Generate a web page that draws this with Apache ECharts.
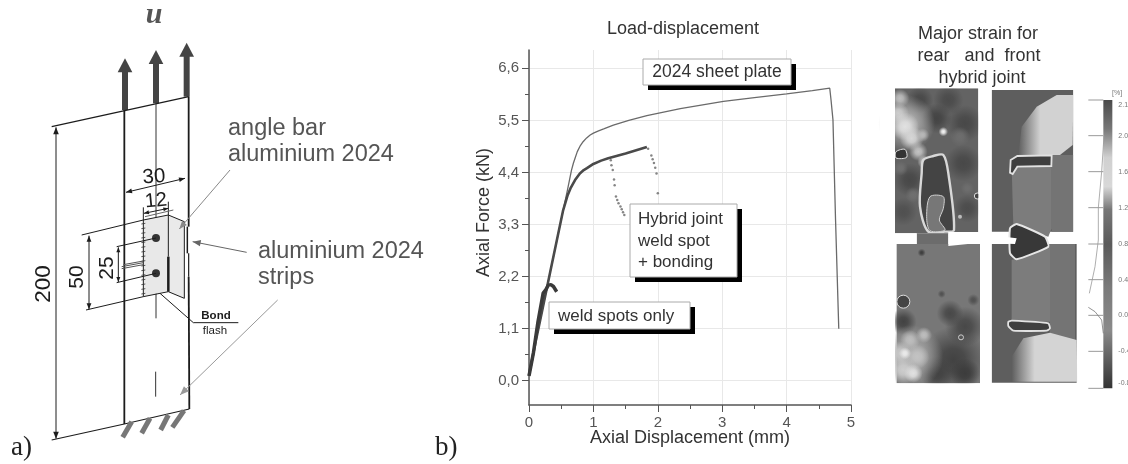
<!DOCTYPE html>
<html><head><meta charset="utf-8">
<style>html,body{margin:0;padding:0;background:#fff}#c{width:1128px;height:464px}</style>
<script src="https://cdn.jsdelivr.net/npm/echarts@6/dist/echarts.min.js"></script>
</head><body><div id="c"></div>
<script>
// ---- chart values ----
const yTickLabels = [0, 1.1, 2.2, 3.3, 4.4, 5.5, 6.6];
const yMinorTicks = [0.55, 1.65, 2.75, 3.85, 4.95, 6.05];
const sheetPlate = [[0,0.15],[0.1,0.8],[0.2,1.45],[0.33,2.3],[0.43,2.95],[0.53,3.6],[0.6,4.05],[0.63,4.25],[0.66,4.45],[0.69,4.6],[0.715,4.7],[0.75,4.84],[0.79,4.95],[0.84,5.05],[0.895,5.13],[0.95,5.19],[1.0,5.23],[1.08,5.28],[1.16,5.32],[1.31,5.4],[1.55,5.5],[1.83,5.6],[2.35,5.75],[3.02,5.9],[3.5,5.98],[4.0,6.06],[4.4,6.13],[4.67,6.18],[4.69,5.93],[4.72,5.51],[4.76,3.4],[4.81,1.1]];
const hybridJoint = [[0,0.12],[0.1,0.8],[0.2,1.45],[0.33,2.3],[0.43,2.95],[0.53,3.6],[0.6,3.92],[0.65,4.08],[0.715,4.24],[0.79,4.38],[0.85,4.45],[0.9,4.49],[1.0,4.58],[1.12,4.65],[1.23,4.7],[1.5,4.8],[1.83,4.94]];
const hybridDrop = [[1.85,4.9],[1.9,4.76],[1.92,4.68],[1.94,4.6],[1.96,4.5],[1.98,4.38],[2.0,3.96],[1.27,4.66],[1.28,4.55],[1.3,4.45],[1.32,4.25],[1.33,4.13],[1.35,3.89],[1.37,3.82],[1.39,3.75],[1.42,3.68],[1.44,3.62],[1.46,3.56],[1.48,3.5]];
const weldSpots = [[0,0.1],[0.07,0.6],[0.14,1.25],[0.22,1.85],[0.26,1.92],[0.3,2.02],[0.34,2.03],[0.38,1.99],[0.43,1.88]];
const strainTicks = ['2.1','2.0','1.6','1.2','0.8','0.4','0.0','-0.4','-0.8'];

// ---- drawing helpers ----
const SANS = '"Liberation Sans",Arial,sans-serif', SERIF = '"Liberation Serif",serif';
const a = (x,y)=>[x/3,y/3];                 // left schematic crop
const s = (x,y)=>[880+x/3,20+y/3];          // right strain crop
const G = [];
function line(f,pts,color,w,z){G.push({type:'polyline',z:z||10,silent:true,shape:{points:pts.map(p=>f(p[0],p[1]))},style:{stroke:color,lineWidth:w,fill:null,lineCap:'butt'}});}
function poly(f,pts,fill,stroke,w,smooth){G.push({type:'polygon',z:10,silent:true,shape:{points:pts.map(p=>f(p[0],p[1])),smooth:smooth||0},style:{fill:fill,stroke:stroke||null,lineWidth:w||0}});}
function text(x,y,t,font,fill,opt){opt=opt||{};G.push({type:'text',z:30,silent:true,x:x,y:y,rotation:opt.rot||0,style:{text:t,x:0,y:0,font:font,fill:fill,align:opt.align||'left',verticalAlign:'middle'}});}
function arrowHead(f,tip,from,size,color){const p=f(tip[0],tip[1]),q=f(from[0],from[1]);const d=Math.atan2(p[1]-q[1],p[0]-q[0]);const m=(k,sg)=>[p[0]-size*Math.cos(d)+sg*k*Math.sin(d),p[1]-size*Math.sin(d)-sg*k*Math.cos(d)];
 G.push({type:'polygon',z:11,silent:true,shape:{points:[p,m(size*0.4,1),m(size*0.4,-1)]},style:{fill:color}});}
function arrow(f,from,to,color,w,size){line(f,[from,to],color,w);arrowHead(f,to,from,size,color);}
function dbl(f,p,q,color,w,size){line(f,[p,q],color,w);arrowHead(f,q,p,size,color);arrowHead(f,p,q,size,color);}
function rect(x,y,w,h,fill,z,stroke){G.push({type:'rect',z:z||10,silent:true,shape:{x,y,width:w,height:h},style:{fill:fill,stroke:stroke||null,lineWidth:stroke?1:0}});}
function circle(f,x,y,r,fill,stroke,w){const c=f(x,y);G.push({type:'circle',z:10,silent:true,shape:{cx:c[0],cy:c[1],r:r},style:{fill:fill,stroke:stroke||null,lineWidth:w||0}});}
function srect(x0,y0,x1,y1,fill){const p=s(x0,y0),q=s(x1,y1);rect(p[0],p[1],q[0]-p[0],q[1]-p[1],fill);}
// soft blotch of grey: core fading to nothing
function blob(x,y,rx,ry,v){const c=s(x,y);const col=`rgba(${v},${v},${v},`;G.push({type:'ellipse',z:10,silent:true,shape:{cx:c[0],cy:c[1],rx:rx/3,ry:ry/3},style:{fill:{type:'radial',x:0.5,y:0.5,r:0.5,colorStops:[{offset:0,color:col+'1)'},{offset:0.35,color:col+'0.85)'},{offset:1,color:col+'0)'}]}}});}
const fade=(c0,at,c1)=>({type:'linear',x:0,y:0,x2:1,y2:0,colorStops:[{offset:0,color:c0},{offset:at,color:c1},{offset:1,color:c1}]});

// ---- a) schematic ----
const K='#1c1c1c';
[[375,330,175],[468,310,150],[560,290,128]].forEach(v=>{
  line(a,[[v[0],v[1]],[v[0],v[2]+30]],'#444',6);
  poly(a,[[v[0],v[2]],[v[0]+22,v[2]+42],[v[0]-22,v[2]+42]],'#444');
});
text(154,15,'u','italic bold 30px '+SERIF,'#555',{align:'center'});
line(a,[[373,330],[373,1272]],K,1.8);
line(a,[[566,290],[566,680]],K,1.8);line(a,[[566,830],[568,1227]],K,1.8);
line(a,[[562,680],[562,760]],K,1.5);line(a,[[566,760],[566,830]],K,1.2);
line(a,[[155,380],[566,290]],K,1.2);
line(a,[[155,1320],[373,1272],[568,1227]],K,1.2);
line(a,[[468,310],[468,955]],'#333',1);line(a,[[467,1115],[467,1190]],'#333',1);
dbl(a,[168,382],[168,1316],K,1,7);
text(44,284,'200','22.5px '+SANS,K,{align:'center',rot:Math.PI/2});
// angle bar
poly(a,[[430,660],[505,645],[505,872],[430,890]],'#e8e8e8');
poly(a,[[505,645],[553,665],[553,895],[505,875]],'#eaeaea');
line(a,[[430,660],[505,645],[553,665],[553,895],[505,875],[430,890],[430,660]],K,1);
line(a,[[505,645],[505,770]],K,1);line(a,[[505,770],[505,875]],K,2.5);
for(let y=670;y<890;y+=14)line(a,[[424,y+2],[436,y]],'#333',0.8);
circle(a,468,714,4,'#333');circle(a,468,820,4,'#333');
// dims
line(a,[[245,705],[430,660]],K,1);line(a,[[258,930],[430,890]],K,1);
dbl(a,[267,707],[267,928],K,1,6);text(77,277,'50','21px '+SANS,K,{align:'center',rot:Math.PI/2});
line(a,[[350,740],[468,714]],K,1);line(a,[[350,848],[468,820]],K,1);
dbl(a,[355,742],[355,846],K,1,5);text(107,268,'25','21px '+SANS,K,{align:'center',rot:Math.PI/2});
dbl(a,[378,577],[555,535],K,1,6);text(154,177,'30','20.5px '+SANS,K,{align:'center',rot:0.08});
dbl(a,[432,640],[505,625],K,1,5);line(a,[[430,622],[430,660]],K,1);line(a,[[505,605],[505,645]],K,1);line(a,[[520,630],[435,650]],'#666',1);
text(156,201,'12','20px '+SANS,K,{align:'center',rot:0.1});
line(a,[[365,800],[430,788]],'#555',1);line(a,[[365,806],[430,794]],'#555',1);line(a,[[370,794],[430,783]],'#555',1);
line(a,[[480,880],[580,968],[715,968]],K,1);
text(216,316,'Bond','bold 11.5px '+SANS,K,{align:'center'});
text(215,331,'flash','11.5px '+SANS,K,{align:'center'});
text(228,129,'angle bar','23.5px '+SANS,'#555');
text(228,155,'aluminium 2024','23.5px '+SANS,'#555');
text(258,252,'aluminium 2024','23.5px '+SANS,'#555');
text(258,278,'strips','23.5px '+SANS,'#555');
arrow(a,[690,510],[538,687],'#888',1,8);
arrow(a,[740,757],[578,725],'#666',1,8);
arrow(a,[833,900],[540,1185],'#999',1,9);
[[395,1265,368,1312],[450,1255,425,1300],[505,1245,482,1290],[552,1232,517,1282]].forEach(v=>line(a,[[v[0],v[1]],[v[2],v[3]]],'#777',5));
text(11,448,'a)','27px '+SERIF,'#222');
text(435,448,'b)','27px '+SERIF,'#222');

// ---- b) text boxes on plot ----
function box(x0,y0,x1,y1){rect(x0+5,y0+5,x1-x0,y1-y0,'#000',20);rect(x0,y0,x1-x0,y1-y0,'#fff',21,'#aaa');}
box(643,59,791,85);box(630,204,737,277);box(549,302,690,329);
text(717,72,'2024 sheet plate','17.5px '+SANS,'#333',{align:'center'});
text(638,219,'Hybrid joint','17px '+SANS,'#333');
text(638,241,'weld spot','17px '+SANS,'#333');
text(638,262,'+ bonding','17px '+SANS,'#333');
text(558,316,'weld spots only','17px '+SANS,'#333');
text(683,29,'Load-displacement','18px '+SANS,'#333',{align:'center'});
text(978,34,'Major strain for','18px '+SANS,'#333',{align:'center'});
text(979,56,'rear   and  front','18px '+SANS,'#333',{align:'center'});
text(982,78,'hybrid joint','18px '+SANS,'#333',{align:'center'});

// ---- strain fields ----
// rear top
srect(45,205,295,640,'#636363');
[[120,240,70,40,72],[205,240,100,45,75],[255,310,55,90,72],[170,295,85,45,68],[90,480,50,85,72],[70,575,42,65,80],[250,430,55,75,72],[262,565,42,85,76]].forEach(b=>blob(...b));
[[240,350,30,44,110],[100,525,24,40,112],[262,505,20,28,110],[62,445,22,30,112]].forEach(b=>blob(...b));
[[80,310,85,130,175],[60,235,36,28,190],[55,280,32,46,205],[75,320,42,46,225],[95,355,52,36,215],[128,345,44,20,185],[115,395,42,28,195],[132,425,20,22,200],[190,335,26,14,245]].forEach(b=>blob(...b));
poly(s,[[48,395],[75,388],[80,412],[48,414]],'#333','#ddd',1,0.3);
poly(s,[[130,420],[160,408],[190,405],[205,460],[222,630],[195,635],[145,635],[120,560],[125,460]],'#444','#d8d8d8',2.4,0.3);
poly(s,[[150,530],[190,530],[190,565],[178,600],[195,630],[150,632],[140,590]],'#777','#d0d0d0',1,0.3);
circle(s,240,590,2,'#bbb');circle(s,292,528,3,'#444','#ddd',1);
// neck
srect(110,640,205,680,'#6c6c6c');
// rear bottom
srect(50,672,300,1090,'#777');
[[220,1020,110,100,66],[255,920,60,65,72],[170,1060,70,50,66],[70,905,65,40,66],[255,1060,65,45,60],[210,880,40,50,72]].forEach(b=>blob(...b));
[[95,1010,95,105,170],[60,1000,36,42,200],[90,960,42,30,190],[132,945,42,24,190],[70,1050,42,42,205],[112,1010,36,42,195],[100,1060,28,30,225],[75,1000,18,36,235]].forEach(b=>blob(...b));
[[125,698,18,12,60],[185,822,18,12,80],[280,840,18,25,80]].forEach(b=>blob(...b));
circle(s,70,845,6.5,'#444','#ddd',1);circle(s,243,952,2.5,'#555','#ccc',1);
// front top
srect(335,210,580,635,'#5e5e5e');
srect(515,405,580,635,'#747474');
poly(s,[[415,405],[425,320],[470,260],[530,225],[580,225],[578,375],[540,405]],fade('rgba(212,212,212,0)',0.4,'#d2d2d2'));
poly(s,[[395,440],[515,435],[515,625],[505,650],[400,620]],'#7c7c7c');
poly(s,[[390,458],[392,420],[412,408],[515,406],[514,438],[412,440],[398,462]],'#3f3f3f','#e2e2e2',1.8);
// front bottom
srect(335,672,590,1088,'#5e5e5e');
srect(510,672,585,960,'#747474');
poly(s,[[395,720],[510,680],[510,905],[395,905]],'#7c7c7c');
poly(s,[[395,1010],[430,955],[510,938],[590,960],[592,1085],[395,1085]],fade('rgba(212,212,212,0)',0.35,'#d4d4d4'));
poly(s,[[390,625],[410,612],[495,650],[505,680],[410,718],[390,700]],'#383838','#e6e6e6',2,0.15);
poly(s,[[385,905],[395,902],[505,910],[510,925],[500,932],[400,932],[385,918]],'#3f3f3f','#e2e2e2',1.8,0.15);
poly(s,[[205,652],[300,642],[410,655],[405,672],[300,668],[205,678]],'#fff');
// keep the soft blotches inside the plates
[[0,150,45,1180],[295,190,335,650],[300,670,335,1180],[580,190,620,650],[592,670,620,1180],[0,640,110,672],[205,636,335,652],[0,150,620,205],[0,1090,620,1180]].forEach(r=>srect(...r,'#fff'));
// colour scale
(function(){const p=s(670,240),q=s(697,1105);G.push({type:'rect',z:10,silent:true,shape:{x:p[0],y:p[1],width:q[0]-p[0],height:q[1]-p[1]},style:{fill:{type:'linear',x:0,y:0,x2:0,y2:1,colorStops:[{offset:0,color:'#4a4a4a'},{offset:0.1,color:'#777'},{offset:0.2,color:'#d0d0d0'},{offset:0.3,color:'#d8d8d8'},{offset:0.38,color:'#777'},{offset:0.5,color:'#5a5a5a'},{offset:0.65,color:'#7a7a7a'},{offset:0.8,color:'#8a8a8a'},{offset:0.92,color:'#555'},{offset:1,color:'#333'}]}}});})();
const sTickY=[240,347,455,563,672,779,886,994,1105];
const sLabelY=[255,347,455,563,672,779,886,994,1090];
sTickY.forEach(y=>line(s,[[625,y],[670,y]],'#999',1));
strainTicks.forEach((t,i)=>{const p=s(715,sLabelY[i]);text(p[0],p[1],t,'7px '+SANS,'#777');});
(function(){const p=s(696,220);text(p[0],p[1],'[%]','7px '+SANS,'#777');})();
line(s,[[672,347],[665,455],[655,563],[655,660],[645,740],[628,820]],'#999',0.8);
line(s,[[625,862],[645,875],[665,900],[670,940]],'#777',0.8);

const chart = echarts.init(document.getElementById('c'),null,{renderer:'canvas'});
const axisText={color:'#555',fontFamily:SANS,fontSize:15};
chart.setOption({
  animation:false,backgroundColor:'#fff',
  grid:{left:529,right:277,top:50,bottom:59,containLabel:false},
  xAxis:{type:'value',min:0,max:5,interval:1,
    name:'Axial Displacement (mm)',nameLocation:'middle',nameGap:24,nameMoveOverlap:false,nameTextStyle:{color:'#333',fontFamily:SANS,fontSize:18},
    axisLine:{show:true,onZero:false,lineStyle:{color:'#555',width:1.5}},
    axisTick:{show:true,length:7,lineStyle:{color:'#555'}},
    minorTick:{show:true,splitNumber:2,length:4,lineStyle:{color:'#555'}},
    axisLabel:{...axisText,margin:10},
    splitLine:{show:true,lineStyle:{color:'#e8e8e8'}}},
  yAxis:[{type:'value',min:-0.513,max:6.987,position:'left',
    name:'Axial Force (kN)',nameLocation:'middle',nameGap:36,nameMoveOverlap:false,nameRotate:90,nameTextStyle:{color:'#333',fontFamily:SANS,fontSize:18,padding:[0,0,0,30]},
    axisLine:{show:true,onZero:false,lineStyle:{color:'#555',width:1.5}},
    axisTick:{show:true,length:7,customValues:yTickLabels,lineStyle:{color:'#555'}},
    axisLabel:{...axisText,margin:10,customValues:yTickLabels,formatter:v=>v.toFixed(1).replace('.',',')},
    splitLine:{show:true,lineStyle:{color:'#e8e8e8'}}},
   {type:'value',min:-0.513,max:6.987,position:'left',
    axisLine:{show:false},axisLabel:{show:false},splitLine:{show:false},
    axisTick:{show:true,length:4,customValues:yMinorTicks,lineStyle:{color:'#555'}}}],
  graphic:{elements:G},
  series:[
   {name:'2024 sheet plate',type:'line',data:sheetPlate,showSymbol:false,lineStyle:{color:'#6a6a6a',width:1.3},z:3},
   {name:'Hybrid joint',type:'line',data:hybridJoint,showSymbol:false,lineStyle:{color:'#4a4a4a',width:2.6},z:4},
   {name:'Hybrid joint failure',type:'scatter',data:hybridDrop,symbolSize:2.5,itemStyle:{color:'#666'},z:4},
   {name:'weld spots only',type:'line',data:weldSpots,showSymbol:false,lineStyle:{color:'#3a3a3a',width:3.5},z:5}
  ]
});
</script></body></html>
